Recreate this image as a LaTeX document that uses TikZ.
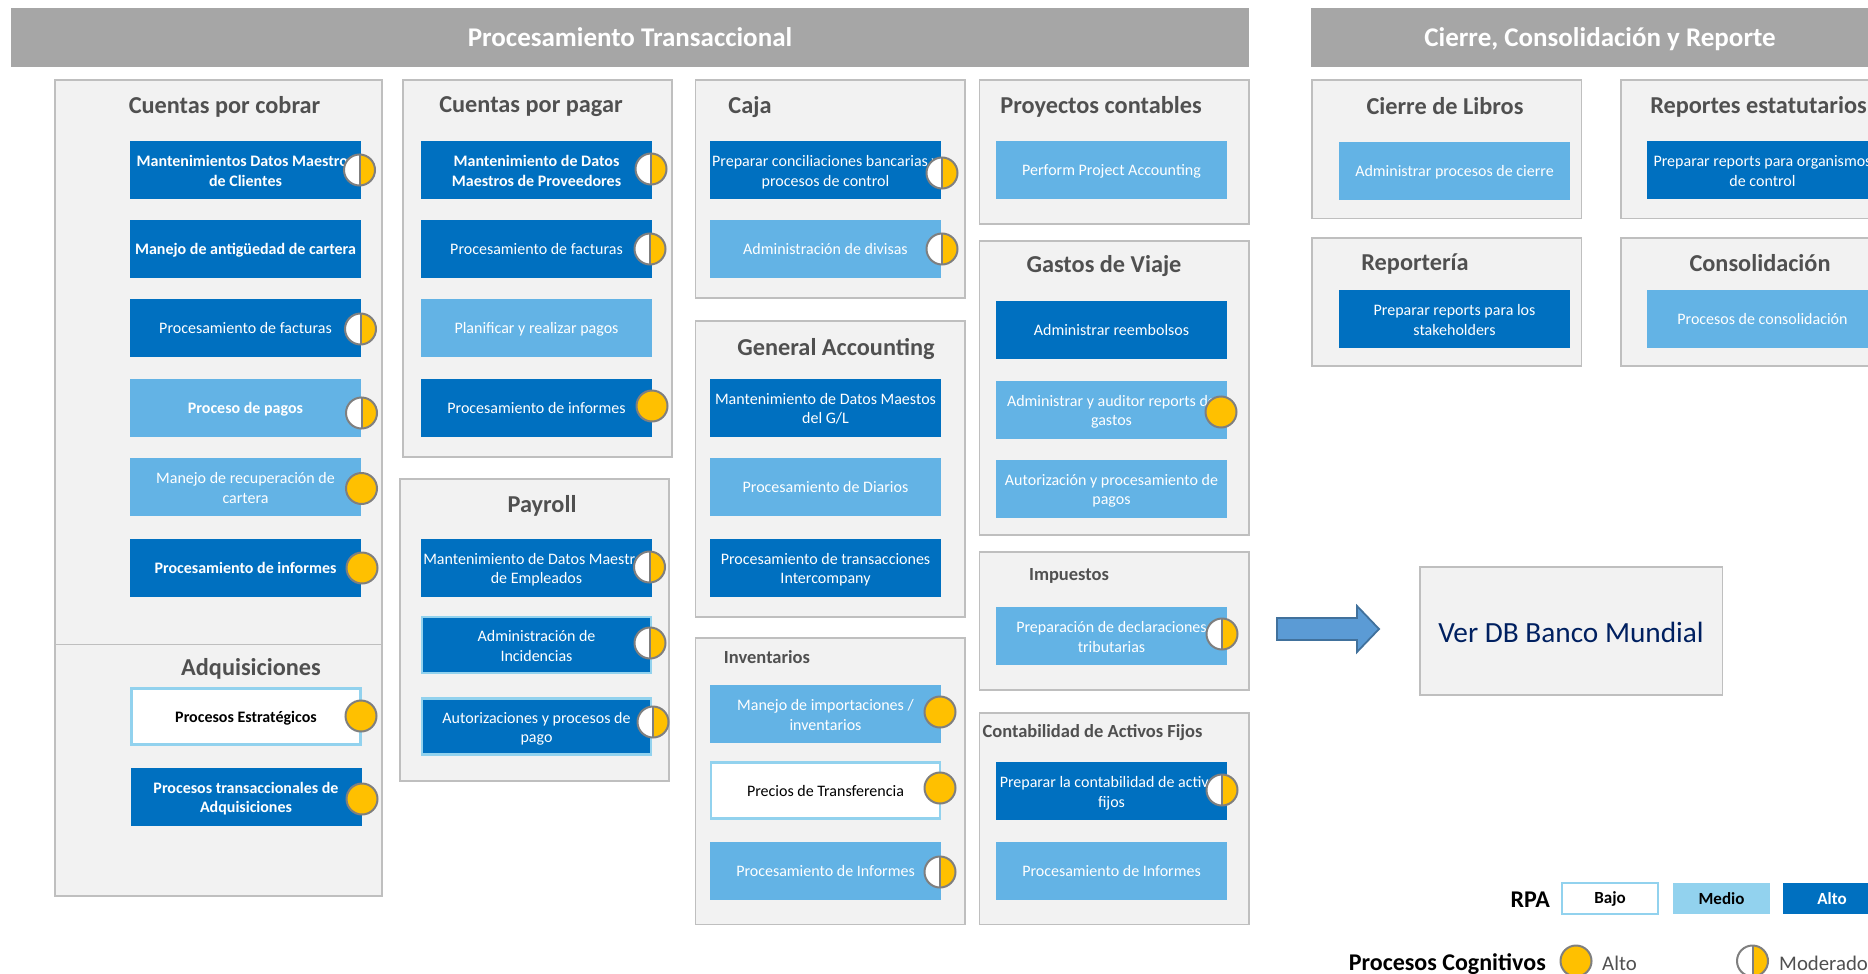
\documentclass[tikz,border=0pt]{standalone}
\usepackage{fontspec}
\setmainfont{Carlito}
\usepackage{xcolor}
\definecolor{head}{RGB}{166, 166, 166}
\definecolor{pan}{RGB}{242, 242, 242}
\definecolor{edge}{RGB}{191, 191, 191}
\definecolor{ttl}{RGB}{80, 80, 80}
\definecolor{alto}{RGB}{0, 112, 192}
\definecolor{medio}{RGB}{99, 179, 229}
\definecolor{leg}{RGB}{146, 210, 238}
\definecolor{gold}{RGB}{255, 192, 0}
\definecolor{ring}{RGB}{127, 127, 127}
\definecolor{navy}{RGB}{0, 32, 96}
\definecolor{arr}{RGB}{91, 155, 213}
\definecolor{arrb}{RGB}{65, 113, 156}
\newcommand{\dosl}{\rule{0pt}{17.6pt}}
\tikzset{
  panel/.style={fill=pan, draw=edge, line width=1.6pt},
  headbar/.style={fill=head, text=white, font=\fontsize{27}{30}\selectfont\bfseries, inner sep=0pt, outer sep=0pt},
  ttlbig/.style={text=ttl, font=\fontsize{24.3}{28}\selectfont\bfseries, inner sep=0pt, yshift=-2pt},
  ttlsmall/.style={text=ttl, font=\fontsize{18.5}{22}\selectfont\bfseries, inner sep=0pt, yshift=-2pt},
  proc/.style={minimum width=231pt, minimum height=58pt, inner sep=0pt, outer sep=0pt, align=center,
    text=white, font=\fontsize{16}{19.5}\selectfont,
    execute at begin node={\rule{0pt}{16.4pt}}, execute at end node={\rule[-4.5pt]{0pt}{0pt}}},
  hi/.style={proc, fill=alto},
  mid/.style={proc, fill=medio},
  lo/.style={proc, fill=white, text=black, draw=leg, line width=2.4pt, minimum width=229pt, minimum height=56pt},
  hib/.style={hi, draw=leg, line width=2.4pt, minimum width=229pt, minimum height=56pt},
  fulld/.style={circle, fill=gold, draw=ring, line width=2pt, minimum size=31pt, inner sep=0pt},
  halfd/.style={circle, fill=white, draw=ring, line width=2pt, minimum size=31pt, inner sep=0pt,
    path picture={
      \fill[gold] (path picture bounding box.north) rectangle (path picture bounding box.south east);
      \draw[ring, line width=2pt] (path picture bounding box.north)--(path picture bounding box.south);
    }},
  legbox/.style={minimum height=31pt, inner sep=0pt, outer sep=0pt, font=\fontsize{17}{20}\selectfont\bfseries},
}
\begin{document}
\begin{tikzpicture}[x=1pt, y=-1pt]
  \clip (0, 0) rectangle (1868, 974);
  \useasboundingbox (0, 0) rectangle (1868, 974);

  \node[headbar, minimum width=1238pt, minimum height=59pt] (hproc) at (630, 37.5) {Procesamiento Transaccional};
  \node[headbar, minimum width=600pt, minimum height=59pt] (hcierre) at (1611, 37.5) {};
  \node[text=white, font=\fontsize{27}{30}\selectfont\bfseries] (tcierre) at (1600, 39.5) {Cierre, Consolidación y Reporte};

  % Cuentas por cobrar
  \draw[panel] (55, 80) rectangle (382, 896);
  \draw[edge, line width=1.6pt] (55, 644.5)--(382, 644.5);
  \node[ttlbig] (tcob) at (224.5, 105) {Cuentas por cobrar};
  \node[hi] (c1) at (245.5, 170) {\dosl\bfseries Mantenimientos Datos Maestros\\\bfseries de Clientes};
  \node[hi] (c2) at (245.5, 249) {\bfseries Manejo de antigüedad de cartera};
  \node[hi] (c3) at (245.5, 328) {Procesamiento de facturas};
  \node[mid] (c4) at (245.5, 407.5) {\bfseries Proceso de pagos};
  \node[mid] (c5) at (245.5, 487) {\dosl Manejo de recuperación de\\cartera};
  \node[hi] (c6) at (245.5, 567.5) {\bfseries Procesamiento de informes};
  \node[halfd] (dc1) at (359.5, 170) {};
  \node[halfd] (dc3) at (360.5, 329) {};
  \node[halfd] (dc4) at (361.5, 413) {};
  \node[fulld] (dc5) at (361.5, 488.5) {};
  \node[fulld] (dc6) at (362, 568) {};

  % Adquisiciones
  \node[ttlbig] (tadq) at (251, 667) {Adquisiciones};
  \node[lo] (a1) at (246, 716.5) {\bfseries Procesos Estratégicos};
  \node[hi] (a2) at (246, 796.5) {\dosl\bfseries Procesos transaccionales de\\\bfseries Adquisiciones};
  \node[fulld] (da1) at (361, 716) {};
  \node[fulld] (da2) at (362, 799) {};

  % Cuentas por pagar
  \draw[panel] (403, 80) rectangle (672, 457);
  \node[ttlbig] (tpag) at (531, 105) {Cuentas por pagar};
  \node[hi] (p1) at (536.5, 170) {\dosl\bfseries Mantenimiento de Datos\\\bfseries Maestros de Proveedores};
  \node[hi] (p2) at (536.5, 249) {Procesamiento de facturas};
  \node[mid] (p3) at (536.5, 328) {Planificar y realizar pagos};
  \node[hi] (p4) at (536.5, 407.5) {Procesamiento de informes};
  \node[halfd] (dp1) at (651, 169) {};
  \node[halfd] (dp2) at (650, 249) {};
  \node[fulld] (dp4) at (652, 406) {};

  % Payroll
  \draw[panel] (400, 479) rectangle (669, 781);
  \node[ttlbig] (tpay) at (542, 504) {Payroll};
  \node[hi] (y1) at (536.5, 567.5) {\dosl Mantenimiento de Datos Maestros\\de Empleados};
  \node[hib] (y2) at (536.5, 645) {\dosl Administración de\\Incidencias};
  \node[hib] (y3) at (536.5, 726.5) {\dosl Autorizaciones y procesos de\\pago};
  \node[halfd] (dy1) at (649.5, 567) {};
  \node[halfd] (dy2) at (650, 643) {};
  \node[halfd] (dy3) at (653, 722) {};

  % Caja
  \draw[panel] (695.5, 80) rectangle (965, 298);
  \node[ttlbig] (tcaja) at (750, 105) {Caja};
  \node[hi] (j1) at (825.5, 170) {\dosl Preparar conciliaciones bancarias y\\procesos de control};
  \node[mid] (j2) at (825.5, 249) {Administración de divisas};
  \node[halfd] (dj1) at (942, 173) {};
  \node[halfd] (dj2) at (942, 249) {};

  % General Accounting
  \draw[panel] (695.5, 321) rectangle (965, 617);
  \node[ttlbig] (tgen) at (836, 347) {General Accounting};
  \node[hi] (g1) at (825.5, 407.5) {\dosl Mantenimiento de Datos Maestos\\del G/L};
  \node[mid] (g2) at (825.5, 487) {Procesamiento de Diarios};
  \node[hi] (g3) at (825.5, 567.5) {\dosl Procesamiento de transacciones\\Intercompany};

  % Inventarios
  \draw[panel] (695.5, 638) rectangle (965, 924.5);
  \node[ttlsmall] (tinv) at (767, 655) {Inventarios};
  \node[mid] (i1) at (825.5, 714) {\dosl Manejo de importaciones /\\inventarios};
  \node[lo] (i2) at (825.5, 790.5) {Precios de Transferencia};
  \node[mid] (i3) at (825.5, 871) {Procesamiento de Informes};
  \node[fulld] (di1) at (940, 712) {};
  \node[fulld] (di2) at (940, 788) {};
  \node[halfd] (di3) at (940, 872) {};

  % Proyectos contables
  \draw[panel] (979.5, 80) rectangle (1249, 224);
  \node[ttlbig] (tpro) at (1101, 105) {Proyectos contables};
  \node[mid] (r1) at (1111.5, 170) {Perform Project Accounting};

  % Gastos de Viaje
  \draw[panel] (979.5, 241) rectangle (1249, 535);
  \node[ttlbig] (tgas) at (1104, 264) {Gastos de Viaje};
  \node[hi] (v1) at (1111.5, 330) {Administrar reembolsos};
  \node[mid] (v2) at (1111.5, 409.5) {\dosl Administrar y auditor reports de\\gastos};
  \node[mid] (v3) at (1111.5, 488.5) {\dosl Autorización y procesamiento de\\pagos};
  \node[fulld] (dv2) at (1221, 412) {};

  % Impuestos
  \draw[panel] (979.5, 552) rectangle (1249, 690);
  \node[ttlsmall] (timp) at (1069, 574) {Impuestos};
  \node[mid] (m1) at (1111.5, 636) {\dosl Preparación de declaraciones\\tributarias};
  \node[halfd] (dm1) at (1222, 634) {};

  % Contabilidad de Activos Fijos
  \draw[panel] (979.5, 713) rectangle (1249, 924.5);
  \node[ttlsmall] (tact) at (1092.5, 730.5) {Contabilidad de Activos Fijos};
  \node[hi] (f1) at (1111.5, 791) {\dosl Preparar la contabilidad de activos\\fijos};
  \node[mid] (f2) at (1111.5, 871) {Procesamiento de Informes};
  \node[halfd] (df1) at (1222, 790) {};

  % Flecha
  \draw[fill=arr, draw=arrb, line width=1.8pt]
    (1277, 618)--(1357, 618)--(1357, 606)--(1379, 629)--(1357, 652)--(1357, 640)--(1277, 640)--cycle;
  \draw[panel] (1420, 567) rectangle (1722.5, 695);
  \node[text=navy, font=\fontsize{29.3}{32}\selectfont, inner sep=0pt] (ver) at (1571, 632) {Ver DB Banco Mundial};

  % Cierre
  \draw[panel] (1312, 80) rectangle (1581.5, 218.5);
  \node[ttlbig] (tcie) at (1445, 104.5) {Cierre de Libros};
  \node[mid] (k1) at (1454.5, 171) {Administrar procesos de cierre};
  \draw[panel] (1621, 80) rectangle (1880, 218.5);
  \node[ttlbig] (tres) at (1758.5, 105) {Reportes estatutarios};
  \node[hi] (e1) at (1762.5, 170) {\dosl Preparar reports para organismos\\de control};
  \draw[panel] (1312, 238) rectangle (1581.5, 366);
  \node[ttlbig] (trep) at (1415, 262) {Reportería};
  \node[hi] (n1) at (1454.5, 319) {\dosl Preparar reports para los\\stakeholders};
  \draw[panel] (1621, 238) rectangle (1880, 366);
  \node[ttlbig] (tcon) at (1760, 261.5) {Consolidación};
  \node[mid] (o1) at (1762.5, 319) {Procesos de consolidación};

  % Leyenda
  \node[font=\fontsize{24}{26}\selectfont\bfseries, anchor=east, inner sep=0pt] (lrpa) at (1550, 900) {RPA};
  \node[legbox, fill=white, draw=leg, line width=2.4pt, minimum width=96pt] (lbajo) at (1610, 898.5) {Bajo};
  \node[legbox, fill=leg, minimum width=97pt] (lmed) at (1721.5, 898.5) {Medio};
  \node[legbox, fill=alto, text=white, minimum width=98pt] (lalto) at (1832, 898.5) {Alto};
  \node[font=\fontsize{24}{26}\selectfont\bfseries, anchor=east, inner sep=0pt] (lcog) at (1546, 964) {Procesos Cognitivos};
  \node[fulld] (dalto) at (1576, 961) {};
  \node[anchor=west, text=ttl, font=\fontsize{20.8}{22}\selectfont, inner sep=0pt] (talto) at (1602, 963) {Alto};
  \node[halfd] (dmod) at (1752.5, 961) {};
  \node[anchor=west, text=ttl, font=\fontsize{20.8}{22}\selectfont, inner sep=0pt] (tmod) at (1779, 963) {Moderado};
\end{tikzpicture}
\end{document}
